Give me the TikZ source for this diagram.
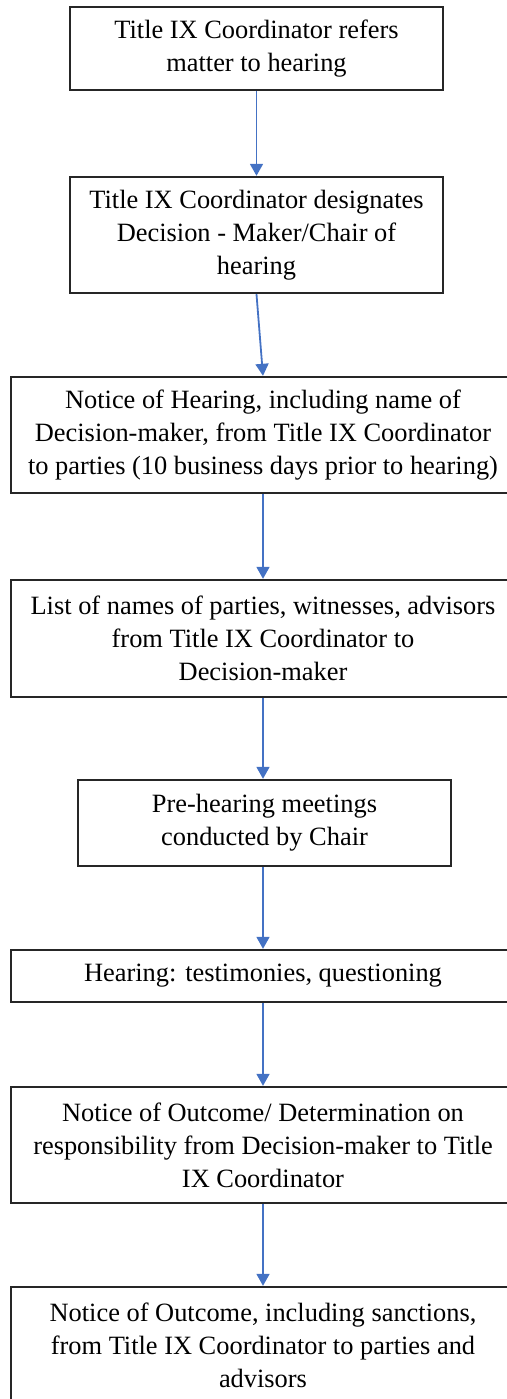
\documentclass[tikz,border=0pt]{standalone}
\usepackage{fontspec}
\setmainfont{Liberation Serif}
\usetikzlibrary{arrows.meta}
\definecolor{arrowblue}{HTML}{4472C4}
\begin{document}
\begin{tikzpicture}[x=0.5pt,y=-0.5pt,
    box/.style={draw=black!85,line width=1.2pt,align=center,inner sep=0pt,
      font=\fontsize{13.2}{16.5}\selectfont},
    flow/.style={draw=arrowblue,line width=0.9pt,-{Triangle[length=6pt,width=6.5pt]}}]
  \clip (0,0) rectangle (507,1399);
  \node[box,minimum width=186.5pt,minimum height=41.5pt](refer) at (256.5,48.5)
    {Title IX Coordinator refers\\matter to hearing};
  \node[box,minimum width=186.5pt,minimum height=58pt](designate) at (256.5,235)
    {Title IX Coordinator designates\\Decision - Maker/Chair of\\hearing};
  \node[box,minimum width=252pt,minimum height=58pt](notice) at (263,435)
    {Notice of Hearing, including name of\\Decision-maker, from Title IX Coordinator\\to parties (10 business days prior to hearing)};
  \node[box,minimum width=252pt,minimum height=58.5pt](list) at (263,638.5)
    {List of names of parties, witnesses, advisors\\from Title IX Coordinator to\\Decision-maker};
  \node[box,minimum width=186.5pt,minimum height=43pt](prehear) at (264.5,823)
    {Pre-hearing meetings\\conducted by Chair};
  \node[box,minimum width=252pt,minimum height=26pt](hearing) at (263,976)
    {Hearing: testimonies, questioning};
  \node[box,minimum width=252pt,minimum height=58pt](determ) at (263,1145)
    {Notice of Outcome/ Determination on\\responsibility from Decision-maker to Title\\IX Coordinator};
  \node[box,minimum width=252pt,minimum height=58pt](sanction) at (263,1345)
    {Notice of Outcome, including sanctions,\\from Title IX Coordinator to parties and\\advisors};
  \draw[flow] (refer) -- (designate);
  \draw[flow] (designate.south) -- (notice.north);
  \draw[flow] (notice) -- (list);
  \draw[flow] (list.south) -- (prehear.north -| list.south);
  \draw[flow] (prehear.south -| hearing.north) -- (hearing.north);
  \draw[flow] (hearing) -- (determ);
  \draw[flow] (determ) -- (sanction);
\end{tikzpicture}
\end{document}
